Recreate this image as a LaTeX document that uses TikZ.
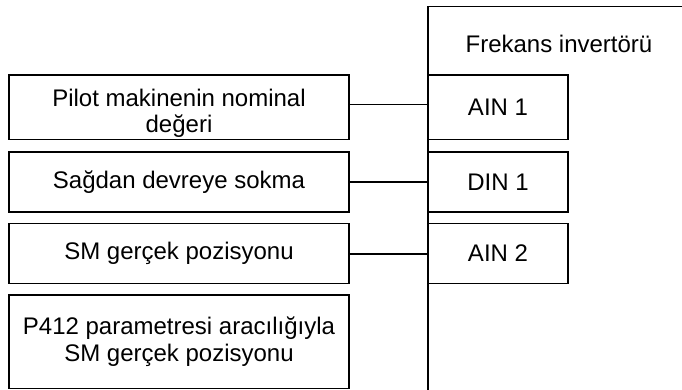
\documentclass[tikz,border=0pt]{standalone}
\usepackage{fontspec}
\setmainfont{Liberation Sans}
\begin{document}
\begin{tikzpicture}[x=1pt,y=-1pt,
  lw/.style={line width=1.5pt},
  lbox/.style={lw,draw,minimum width=340pt,inner sep=0pt,align=center,
    font=\fontsize{24}{27.6}\selectfont},
  rbox/.style={lw,draw,minimum width=140pt,inner sep=0pt,align=center,
    font=\fontsize{24}{27.6}\selectfont},
  lbl/.style={inner sep=0pt,align=center,font=\fontsize{24}{25.6}\selectfont},
  conn/.style={lw}]
\useasboundingbox (0,0) rectangle (682,390);
\clip (0,0) rectangle (682,390);
% frame of the inverter (right and bottom edges lie outside the picture)
\draw[lw] (700,6.7) -- (428,6.7) -- (428,400);
\node[lbl] (fi) at (559,44) {Frekans invertörü};
% left boxes
\node[lbox,minimum height=64.5pt] (p1) at (179,107.25) {};
\node[lbl] (p1t) at (179,113.5) {Pilot makinenin nominal\\değeri};
\node[lbox,minimum height=60pt] (p2) at (179,182) {Sağdan devreye sokma};
\node[lbox,minimum height=60pt] (p3) at (179,253.5) {SM gerçek pozisyonu};
\node[lbox,minimum height=93.5pt] (p4) at (179,341.75) {P412 parametresi aracılığıyla\\SM gerçek pozisyonu};
% right boxes
\node[rbox,minimum height=64.5pt] (a1) at (498,107.25) {AIN 1};
\node[rbox,minimum height=60pt] (d1) at (498,182) {DIN 1};
\node[rbox,minimum height=60pt] (a2) at (498,253.5) {AIN 2};
% connectors
\draw[conn] ([yshift=2.5pt]p1.east) -- ([yshift=2.5pt]p1.east -| a1.west);
\draw[conn] (p2.east) -- (d1.west);
\draw[conn] ([yshift=-0.5pt]p3.east) -- ([yshift=-0.5pt]p3.east -| a2.west);
\end{tikzpicture}
\end{document}
